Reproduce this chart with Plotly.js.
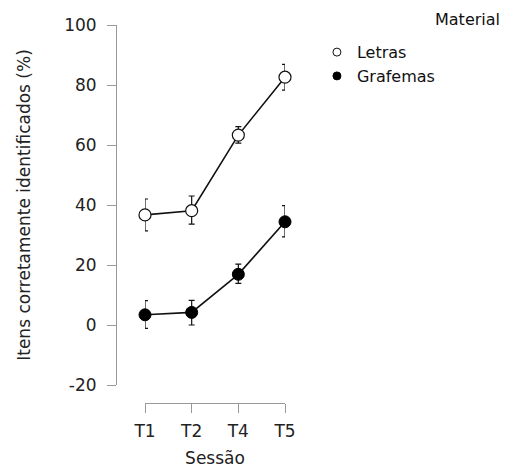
<!DOCTYPE html>
<html><head><meta charset="utf-8">
<script src="https://cdn.plot.ly/plotly-3.0.1.min.js"></script>
<style>html,body{margin:0;padding:0;background:#fff}</style>
</head><body><div id="chart" style="width:511px;height:468px"></div>
<script>
const sessions = ["T1", "T2", "T4", "T5"];
const letrasMean = [36.7, 38.1, 63.3, 82.6];
const letrasUpper = [42.0, 43.0, 66.1, 86.9];
const letrasLower = [31.4, 33.6, 60.6, 78.3];
const grafemasMean = [3.4, 4.2, 16.9, 34.4];
const grafemasUpper = [8.1, 8.2, 20.3, 39.8];
const grafemasLower = [-1.1, 0.0, 13.9, 29.4];
const yTickVals = [-20, 0, 20, 40, 60, 80, 100];
const yTickText = ["-20", "0", "20", "40", "60", "80", "100"];

function errs(mean, up, lo) {
  return {
    type: 'data', symmetric: false,
    array: up.map((u, i) => u - mean[i]),
    arrayminus: mean.map((m, i) => m - lo[i]),
    color: '#111', thickness: 1.2, width: 3
  };
}

const FAM = 'DejaVu Sans, sans-serif';
const tickFont = {family: FAM, size: 17, color: '#222'};
const titleFont = {family: FAM, size: 17, color: '#222'};
const legFont = {family: FAM, size: 16, color: '#111'};

const traces = [
  {
    x: sessions, y: letrasMean, type: 'scatter', mode: 'lines', showlegend: false,
    line: {color: '#111', width: 1.6}, cliponaxis: false
  },
  {
    x: sessions, y: grafemasMean, type: 'scatter', mode: 'lines', showlegend: false,
    line: {color: '#111', width: 1.6}, cliponaxis: false
  },
  {
    x: sessions, y: letrasMean, name: 'Letras', type: 'scatter', mode: 'markers', showlegend: false,
    marker: {symbol: 'circle', size: 12, color: '#fff', line: {color: '#111', width: 1.2}},
    error_y: errs(letrasMean, letrasUpper, letrasLower),
    cliponaxis: false
  },
  {
    x: sessions, y: grafemasMean, name: 'Grafemas', type: 'scatter', mode: 'markers', showlegend: false,
    marker: {symbol: 'circle', size: 12, color: '#000', line: {color: '#000', width: 1}},
    error_y: errs(grafemasMean, grafemasUpper, grafemasLower),
    cliponaxis: false
  },
  {
    x: [null], y: [null], name: 'Letras', type: 'scatter', mode: 'markers',
    marker: {symbol: 'circle', size: 8, color: '#fff', line: {color: '#111', width: 1}}
  },
  {
    x: [null], y: [null], name: 'Grafemas', type: 'scatter', mode: 'markers',
    marker: {symbol: 'circle', size: 8, color: '#000', line: {color: '#000', width: 1}}
  }
];

const layout = {
  width: 511, height: 468,
  margin: {l: 116, r: 226, t: 25, b: 65},
  paper_bgcolor: '#fff', plot_bgcolor: '#fff',
  font: tickFont,
  showlegend: true,
  legend: {
    x: 1.189, y: 0.973, xanchor: 'left', yanchor: 'top',
    font: legFont, tracegroupgap: 0, bgcolor: 'rgba(0,0,0,0)'
  },
  xaxis: {
    type: 'category', domain: [0.1716, 1], range: [0, 3],
    anchor: 'free', position: 0,
    showline: true, linecolor: '#999', linewidth: 1,
    ticks: 'outside', ticklen: 9, tickcolor: '#999', tickwidth: 1,
    ticklabelstandoff: 4,
    showgrid: false, zeroline: false,
    tickfont: tickFont,
    title: {text: 'Sessão', font: titleFont, standoff: 18}
  },
  yaxis: {
    domain: [0.0476, 1], range: [-20, 100],
    anchor: 'free', position: 0,
    tickvals: yTickVals, ticktext: yTickText,
    showline: true, linecolor: '#999', linewidth: 1,
    ticks: 'outside', ticklen: 9, tickcolor: '#999', tickwidth: 1,
    ticklabelstandoff: 7,
    showgrid: false, zeroline: false,
    tickfont: tickFont,
    title: {text: 'Itens corretamente identificados (%)', font: titleFont, standoff: 28}
  },
  annotations: [{
    text: 'Material', xref: 'paper', yref: 'paper', x: 2.284, y: 1.015,
    xanchor: 'right', yanchor: 'middle', showarrow: false,
    font: legFont
  }]
};

Plotly.newPlot('chart', traces, layout, {displayModeBar: false, staticPlot: true});
</script>
</body></html>
